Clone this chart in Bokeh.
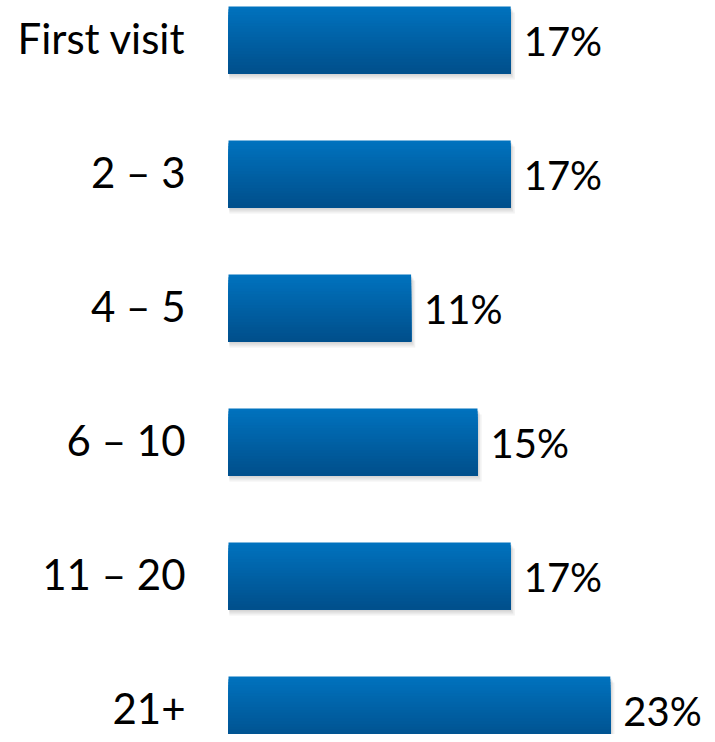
from bokeh.plotting import figure
from bokeh.models import Range1d, ColumnDataSource
from bokeh.core.properties import value
from bokeh.embed import file_html
from bokeh.resources import INLINE

categories = ["First visit", "2 \u2013 3", "4 \u2013 5", "6 \u2013 10", "11 \u2013 20", "21+"]
percents = [17, 17, 11, 15, 17, 23]

W, H = 707, 734
px_per_pct = 16.6
x0_px = 228
row_px = 134
first_center_px = 39.5

p = figure(width=W, height=H, output_backend="svg", toolbar_location=None,
           x_range=Range1d(-x0_px / px_per_pct, (W - x0_px) / px_per_pct),
           y_range=Range1d(-(H - first_center_px) / row_px, first_center_px / row_px),
           min_border=0)
p.axis.visible = False
p.grid.visible = False
p.outline_line_color = None
p.background_fill_color = "white"

ys = [-i for i in range(len(categories))]
bar_h = 0.5

# soft shadow
for dx, dy, a in [(0.25, 0.045, 0.10), (0.15, 0.03, 0.12), (0.08, 0.015, 0.14)]:
    p.hbar(y=[y - dy for y in ys], left=[0.05] * len(ys), right=[v + dx for v in percents],
           height=bar_h, fill_color="#7f7f7f", fill_alpha=a, line_color=None)

# vertical gradient bars (overlapping layers, top to bottom, no seams)
top_rgb = (0, 114, 190)
bot_rgb = (0, 80, 140)
N = 24
for j in range(N):
    t = j / (N - 1)
    r = int(top_rgb[0] + (bot_rgb[0] - top_rgb[0]) * t)
    g = int(top_rgb[1] + (bot_rgb[1] - top_rgb[1]) * t)
    b = int(top_rgb[2] + (bot_rgb[2] - top_rgb[2]) * t)
    color = "#%02x%02x%02x" % (r, g, b)
    hh = bar_h * (1 - j / N)
    yc = [y - bar_h / 2 + hh / 2 for y in ys]
    p.hbar(y=yc, left=[0] * len(ys), right=percents, height=hh,
           fill_color=color, line_color=None)

src = ColumnDataSource(dict(y=ys, v=percents, cat=categories,
                            lab=["%d%%" % v for v in percents], zero=[0] * len(ys)))
p.text(x="zero", y="y", text="cat", source=src, x_offset=-43, y_offset=-2,
       text_align="right", text_baseline="middle", text_font=value("Lato"),
       text_font_size="42px", text_color="black")
p.text(x="v", y="y", text="lab", source=src, x_offset=13, y_offset=1,
       text_align="left", text_baseline="middle", text_font=value("Lato"),
       text_font_size="40px", text_color="black")

open("out.html", "w").write(file_html(p, INLINE))
